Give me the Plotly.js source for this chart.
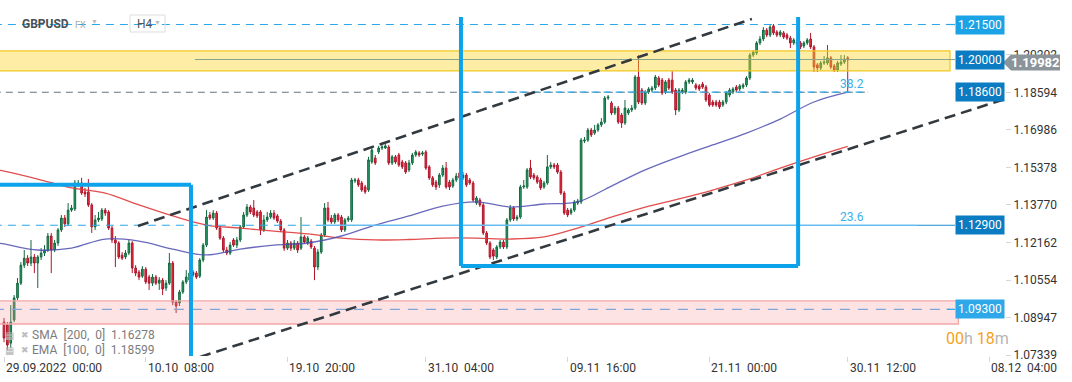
<!DOCTYPE html>
<html>
<head>
<meta charset="utf-8">
<script src="https://cdn.plot.ly/plotly-3.0.1.min.js"></script>
<style>
  html, body { margin: 0; padding: 0; background: #ffffff; }
  #chart { width: 1072px; height: 382px; }
</style>
</head>
<body>
<div id="chart"></div>
<script>
// ---------------- DATA (GBPUSD, H4 bars) ----------------
const symbol = "GBPUSD";
const timeframe = "H4";

const barOpen = [
1.0875,1.0863,1.0785,1.0884,1.0979,1.1042,1.1119,1.1149,1.1128,1.1154,
1.1128,1.1154,1.1171,1.1184,1.1244,1.1184,1.1214,1.1270,1.1321,1.1296,
1.1355,1.1360,1.1463,1.1471,1.1433,1.1433,1.1377,1.1283,1.1313,1.1317,
1.1355,1.1347,1.1278,1.1227,1.1214,1.1162,1.1154,1.1171,1.1214,1.1107,
1.1089,1.1072,1.1102,1.1068,1.1042,1.1068,1.1042,1.1055,1.1021,1.1042,
1.1128,1.0961,1.0957,1.1004,1.1047,1.1055,1.1089,1.1085,1.1072,1.1141,
1.1205,1.1334,1.1321,1.1342,1.1278,1.1235,1.1184,1.1171,1.1227,1.1205,
1.1227,1.1283,1.1334,1.1368,1.1364,1.1347,1.1347,1.1270,1.1313,1.1325,
1.1342,1.1330,1.1308,1.1270,1.1192,1.1214,1.1192,1.1214,1.1192,1.1240,
1.1214,1.1222,1.1192,1.1111,1.1175,1.1248,1.1364,1.1321,1.1304,1.1334,
1.1325,1.1270,1.1313,1.1313,1.1480,1.1484,1.1471,1.1454,1.1441,1.1561,
1.1578,1.1604,1.1621,1.1621,1.1625,1.1557,1.1583,1.1591,1.1561,1.1557,
1.1527,1.1557,1.1591,1.1600,1.1595,1.1604,1.1540,1.1493,1.1475,1.1463,
1.1505,1.1535,1.1475,1.1458,1.1484,1.1514,1.1493,1.1505,1.1484,1.1471,
1.1385,1.1398,1.1377,1.1257,1.1214,1.1184,1.1154,1.1197,1.1218,1.1197,
1.1313,1.1364,1.1317,1.1325,1.1454,1.1454,1.1535,1.1505,1.1497,1.1484,
1.1454,1.1471,1.1540,1.1548,1.1548,1.1518,1.1428,1.1355,1.1342,1.1355,
1.1385,1.1390,1.1651,1.1655,1.1698,1.1685,1.1698,1.1720,1.1732,1.1835,
1.1814,1.1771,1.1792,1.1762,1.1728,1.1771,1.1784,1.1792,1.1925,1.1869,
1.1814,1.1861,1.1869,1.1878,1.1921,1.1912,1.1861,1.1912,1.1912,1.1869,
1.1784,1.1861,1.1861,1.1904,1.1904,1.1891,1.1887,1.1895,1.1882,1.1848,
1.1818,1.1818,1.1818,1.1805,1.1818,1.1848,1.1861,1.1882,1.1874,1.1882,
1.1891,1.1921,1.2019,1.2028,1.2071,1.2088,1.2126,1.2105,1.2144,1.2118,
1.2105,1.2114,1.2105,1.2092,1.2071,1.2075,1.2071,1.2058,1.2071,1.2088,
1.2054,1.1977,1.1964,1.1985,1.1985,1.2007,1.1972,1.1955,1.1981,1.1989,
1.2007];

const barHigh = [
1.0893,1.0875,1.0948,1.0991,1.1064,1.1132,1.1184,1.1162,1.1227,1.1167,
1.1162,1.1192,1.1205,1.1257,1.1257,1.1227,1.1278,1.1334,1.1334,1.1385,
1.1377,1.1484,1.1484,1.1493,1.1450,1.1488,1.1385,1.1334,1.1347,1.1364,
1.1364,1.1355,1.1287,1.1244,1.1222,1.1175,1.1184,1.1227,1.1222,1.1119,
1.1098,1.1115,1.1111,1.1077,1.1081,1.1077,1.1068,1.1064,1.1055,1.1171,
1.1137,1.0970,1.1013,1.1055,1.1098,1.1107,1.1098,1.1094,1.1149,1.1214,
1.1355,1.1347,1.1355,1.1351,1.1287,1.1244,1.1197,1.1218,1.1235,1.1240,
1.1291,1.1347,1.1381,1.1377,1.1398,1.1355,1.1355,1.1334,1.1347,1.1355,
1.1355,1.1338,1.1317,1.1278,1.1227,1.1222,1.1227,1.1222,1.1325,1.1248,
1.1244,1.1231,1.1201,1.1188,1.1257,1.1385,1.1390,1.1334,1.1342,1.1342,
1.1334,1.1321,1.1330,1.1493,1.1493,1.1493,1.1480,1.1463,1.1583,1.1625,
1.1591,1.1630,1.1638,1.1642,1.1634,1.1591,1.1591,1.1600,1.1570,1.1565,
1.1570,1.1600,1.1612,1.1608,1.1608,1.1612,1.1548,1.1501,1.1484,1.1514,
1.1548,1.1561,1.1484,1.1493,1.1514,1.1523,1.1518,1.1514,1.1493,1.1480,
1.1415,1.1407,1.1385,1.1265,1.1222,1.1192,1.1205,1.1227,1.1227,1.1321,
1.1377,1.1372,1.1334,1.1463,1.1484,1.1535,1.1570,1.1514,1.1505,1.1493,
1.1480,1.1591,1.1561,1.1557,1.1557,1.1527,1.1437,1.1364,1.1364,1.1398,
1.1403,1.1664,1.1668,1.1707,1.1707,1.1720,1.1728,1.1749,1.1844,1.1848,
1.1822,1.1801,1.1801,1.1771,1.1827,1.1792,1.1805,1.1934,1.2019,1.1878,
1.1869,1.1882,1.1887,1.1934,1.1929,1.1921,1.1912,1.1921,1.1951,1.1878,
1.1878,1.1878,1.1912,1.1921,1.1921,1.1899,1.1895,1.1904,1.1891,1.1857,
1.1827,1.1827,1.1827,1.1827,1.1865,1.1878,1.1882,1.1891,1.1895,1.1899,
1.1929,1.2028,1.2041,1.2079,1.2101,1.2139,1.2135,1.2152,1.2152,1.2126,
1.2126,1.2122,1.2114,1.2101,1.2092,1.2084,1.2079,1.2079,1.2092,1.2114,
1.2062,1.1985,1.1994,1.2015,1.2062,1.2015,1.1981,1.1994,1.2019,1.2019,
1.2015];

const barLow = [
1.0789,1.0756,1.0764,1.0875,1.0970,1.1034,1.1107,1.1115,1.1115,1.1085,
1.1021,1.1141,1.1158,1.1175,1.1085,1.1175,1.1201,1.1261,1.1283,1.1287,
1.1347,1.1351,1.1454,1.1420,1.1411,1.1368,1.1257,1.1270,1.1304,1.1308,
1.1330,1.1270,1.1214,1.1111,1.1145,1.1141,1.1145,1.1162,1.1085,1.1072,
1.1055,1.1064,1.1038,1.1013,1.1030,1.1034,1.1013,1.0991,1.1009,1.1034,
1.0948,1.0914,1.0944,1.0996,1.1038,1.1047,1.1068,1.1060,1.1064,1.1132,
1.1197,1.1313,1.1313,1.1270,1.1227,1.1175,1.1162,1.1162,1.1197,1.1192,
1.1218,1.1274,1.1325,1.1338,1.1325,1.1321,1.1248,1.1261,1.1304,1.1317,
1.1313,1.1300,1.1261,1.1180,1.1184,1.1180,1.1184,1.1171,1.1184,1.1210,
1.1205,1.1188,1.1055,1.1098,1.1167,1.1240,1.1304,1.1296,1.1296,1.1304,
1.1261,1.1261,1.1304,1.1304,1.1471,1.1454,1.1433,1.1424,1.1433,1.1553,
1.1548,1.1595,1.1612,1.1617,1.1548,1.1548,1.1553,1.1540,1.1531,1.1510,
1.1518,1.1548,1.1583,1.1583,1.1587,1.1527,1.1484,1.1454,1.1441,1.1450,
1.1497,1.1446,1.1441,1.1450,1.1475,1.1484,1.1484,1.1454,1.1463,1.1390,
1.1377,1.1368,1.1248,1.1205,1.1145,1.1141,1.1145,1.1188,1.1188,1.1188,
1.1304,1.1308,1.1308,1.1317,1.1446,1.1446,1.1488,1.1484,1.1467,1.1441,
1.1446,1.1463,1.1531,1.1531,1.1510,1.1420,1.1334,1.1325,1.1334,1.1347,
1.1377,1.1381,1.1642,1.1647,1.1668,1.1677,1.1690,1.1711,1.1724,1.1827,
1.1762,1.1762,1.1724,1.1707,1.1720,1.1762,1.1775,1.1784,1.1809,1.1805,
1.1805,1.1852,1.1861,1.1869,1.1882,1.1848,1.1852,1.1869,1.1852,1.1762,
1.1775,1.1852,1.1852,1.1895,1.1895,1.1869,1.1865,1.1874,1.1818,1.1797,
1.1797,1.1797,1.1788,1.1797,1.1809,1.1839,1.1852,1.1861,1.1865,1.1874,
1.1882,1.1912,1.2011,1.2019,1.2062,1.2079,1.2096,1.2096,1.2105,1.2096,
1.2096,1.2088,1.2084,1.2049,1.2062,1.2058,1.2045,1.2049,1.2062,1.2045,
1.1947,1.1947,1.1955,1.1977,1.1977,1.1959,1.1947,1.1947,1.1972,1.1981,
1.1862];

const barClose = [
1.0807,1.0777,1.0875,1.0979,1.1042,1.1119,1.1149,1.1128,1.1154,1.1128,
1.1154,1.1171,1.1184,1.1244,1.1184,1.1214,1.1270,1.1321,1.1296,1.1355,
1.1364,1.1471,1.1471,1.1428,1.1424,1.1377,1.1283,1.1313,1.1321,1.1355,
1.1342,1.1278,1.1227,1.1214,1.1154,1.1149,1.1171,1.1214,1.1107,1.1085,
1.1068,1.1102,1.1047,1.1042,1.1068,1.1042,1.1055,1.1017,1.1042,1.1128,
1.0961,1.0944,1.1004,1.1047,1.1068,1.1085,1.1077,1.1068,1.1141,1.1205,
1.1325,1.1321,1.1342,1.1278,1.1235,1.1184,1.1171,1.1205,1.1205,1.1227,
1.1283,1.1334,1.1368,1.1347,1.1334,1.1330,1.1270,1.1313,1.1325,1.1342,
1.1321,1.1308,1.1270,1.1192,1.1214,1.1192,1.1214,1.1184,1.1240,1.1218,
1.1235,1.1197,1.1111,1.1175,1.1248,1.1364,1.1313,1.1304,1.1334,1.1313,
1.1270,1.1313,1.1321,1.1484,1.1484,1.1463,1.1441,1.1433,1.1570,1.1612,
1.1557,1.1621,1.1625,1.1630,1.1557,1.1583,1.1561,1.1548,1.1540,1.1518,
1.1557,1.1591,1.1604,1.1591,1.1600,1.1535,1.1493,1.1463,1.1454,1.1505,
1.1535,1.1454,1.1454,1.1484,1.1501,1.1493,1.1505,1.1463,1.1471,1.1398,
1.1407,1.1377,1.1257,1.1214,1.1154,1.1158,1.1197,1.1218,1.1197,1.1313,
1.1364,1.1317,1.1325,1.1454,1.1458,1.1527,1.1497,1.1493,1.1475,1.1450,
1.1471,1.1540,1.1548,1.1540,1.1518,1.1428,1.1342,1.1334,1.1355,1.1390,
1.1394,1.1655,1.1655,1.1698,1.1677,1.1698,1.1720,1.1732,1.1835,1.1839,
1.1771,1.1792,1.1732,1.1728,1.1792,1.1784,1.1792,1.1925,1.1818,1.1814,
1.1861,1.1874,1.1878,1.1925,1.1891,1.1857,1.1904,1.1878,1.1861,1.1784,
1.1869,1.1869,1.1904,1.1912,1.1912,1.1878,1.1874,1.1882,1.1827,1.1805,
1.1805,1.1805,1.1797,1.1818,1.1857,1.1869,1.1874,1.1869,1.1887,1.1891,
1.1921,1.2019,1.2032,1.2071,1.2088,1.2126,1.2105,1.2139,1.2114,1.2105,
1.2118,1.2096,1.2092,1.2071,1.2084,1.2066,1.2054,1.2071,1.2084,1.2054,
1.1968,1.1964,1.1985,1.1989,1.2007,1.1968,1.1955,1.1985,1.1989,1.2002,
1.1998];

// moving averages (bar index -> value)
const maIdx  = [-2, 0, 10, 20, 30, 40, 50, 60, 70, 80, 90, 100, 110, 120, 130, 140, 150, 160, 170, 180, 190, 200, 210, 220, 230, 240, 250];
const sma200 = [1.1527,1.1522,1.1488,1.1450,1.1428,1.1377,1.1330,1.1291,1.1278,1.1265,1.1253,1.1235,1.1227,1.1229,1.1235,1.1235,1.1231,1.1240,1.1278,1.1325,1.1368,1.1403,1.1441,1.1484,1.1535,1.1583,1.1628];
const ema100 = [1.1214,1.1210,1.1184,1.1192,1.1231,1.1222,1.1188,1.1163,1.1188,1.1205,1.1214,1.1244,1.1291,1.1330,1.1372,1.1390,1.1368,1.1381,1.1390,1.1458,1.1527,1.1583,1.1634,1.1685,1.1745,1.1818,1.18599];

// x tick labels
const xTickIdx  = [0, 42, 84, 125, 167, 209, 250, 292];
const xTickText = ["29.09.2022\u00a0\u00a000:00", "10.10\u00a0\u00a008:00", "19.10\u00a0\u00a020:00", "31.10\u00a0\u00a004:00",
                   "09.11\u00a0\u00a016:00", "21.11\u00a0\u00a000:00", "30.11\u00a0\u00a012:00", "08.12\u00a0\u00a004:00"];
// y tick labels
const yTickVals = [1.07339, 1.08947, 1.10554, 1.12162, 1.13770, 1.15378, 1.16986, 1.18594, 1.20202];

// horizontal price levels
const levelVals  = [1.21500, 1.20000, 1.18600, 1.12900, 1.09300];
const levelText  = ["1.21500", "1.20000", "1.18600", "1.12900", "1.09300"];
const levelColor = ["#1ba3e6", "#0b7cc1", "#0b7cc1", "#0b7cc1", "#2ea8e8"];
// zones
const resistZone = [1.1951, 1.2037];
const supportZone = [1.0867, 1.0966];
// fibonacci labels
const fibLabels = ["38.2", "23.6"];
const fibVals = [1.18600, 1.12900];
const lastPrice = 1.19982;
const smaLast = "1.16278", emaLast = "1.18599";

// ---------------- CHART ----------------
const idx = barClose.map((_, k) => k);
const FONT = "Roboto, 'Open Sans', sans-serif";
const PW = 1005, PH = 356;           // plot area size in px
const px = v => v / PW;              // helper for paper coords
const py = v => (PH - v) / PH;

const traces = [
  {
    type: "candlestick", x: idx, open: barOpen, high: barHigh, low: barLow, close: barClose,
    increasing: { line: { color: "#14693f", width: 1 }, fillcolor: "#25a068" },
    decreasing: { line: { color: "#b0142a", width: 1 }, fillcolor: "#e6333f" },
    whiskerwidth: 0, hoverinfo: "skip", showlegend: false
  },
  { type: "scatter", mode: "lines", x: maIdx, y: sma200, line: { color: "#de3b3b", width: 1.3, shape: "spline" }, opacity: 0.9, hoverinfo: "skip", showlegend: false },
  { type: "scatter", mode: "lines", x: maIdx, y: ema100, line: { color: "#4d4db0", width: 1.3, shape: "spline" }, opacity: 0.85, hoverinfo: "skip", showlegend: false }
];

const XR = 280.3, XL = 281.8;   // right end of level lines / label start (bar index units)
const shapes = [
  // resistance zone
  { type: "rect", xref: "x", yref: "y", x0: -3, x1: XR, y0: resistZone[0], y1: resistZone[1],
    fillcolor: "rgba(252,212,40,0.42)", line: { color: "#f2c820", width: 1.3 }, layer: "above" },
  // support zone
  { type: "rect", xref: "x", yref: "y", x0: -3, x1: XL + 1, y0: supportZone[0], y1: supportZone[1],
    fillcolor: "rgba(246,150,150,0.27)", line: { color: "#f2a7a7", width: 1.3 }, layer: "above" },
  // 1.215 dashed
  { type: "line", xref: "x", yref: "y", x0: -3, x1: XR, y0: levelVals[0], y1: levelVals[0], line: { color: "#2aa8e8", width: 1.2, dash: "8px,6px" }, layer: "above" },
  { type: "line", xref: "x", yref: "y", x0: XR - 1, x1: XL, y0: levelVals[0], y1: levelVals[0], line: { color: "#2aa8e8", width: 1.2 }, layer: "above" },
  // 1.20 line in zone
  { type: "line", xref: "x", yref: "y", x0: 56.6, x1: XL, y0: levelVals[1], y1: levelVals[1], line: { color: "#8aa38c", width: 1.2 }, layer: "above" },
  // 1.186
  { type: "line", xref: "x", yref: "y", x0: -3, x1: 256, y0: levelVals[2], y1: levelVals[2], line: { color: "#6a7680", width: 1.1, dash: "7px,5px" }, layer: "above" },
  { type: "line", xref: "x", yref: "y", x0: 135, x1: 256, y0: levelVals[2], y1: levelVals[2], line: { color: "#2aa8e8", width: 1.2, dash: "7px,5px" }, layer: "above" },
  // 1.129
  { type: "line", xref: "x", yref: "y", x0: -3, x1: 94.2, y0: levelVals[3], y1: levelVals[3], line: { color: "#2aa8e8", width: 1.2, dash: "8px,6px" }, layer: "above" },
  { type: "line", xref: "x", yref: "y", x0: 94.2, x1: 270.5, y0: levelVals[3], y1: levelVals[3], line: { color: "#66bdf0", width: 1.6 }, layer: "above" },
  { type: "line", xref: "x", yref: "y", x0: 270.5, x1: XL, y0: levelVals[3], y1: levelVals[3], line: { color: "#1a8fd0", width: 1.2 }, layer: "above" },
  // 1.093
  { type: "line", xref: "x", yref: "y", x0: -3, x1: XR, y0: levelVals[4], y1: levelVals[4], line: { color: "#7fa6d6", width: 1.2, dash: "10px,8px" }, layer: "above" },
  { type: "line", xref: "x", yref: "y", x0: XR - 1, x1: XL, y0: levelVals[4], y1: levelVals[4], line: { color: "#2aa8e8", width: 1.2 }, layer: "above" },
  // trend channel
  { type: "line", xref: "x", yref: "y", x0: 39.7, y0: 1.1287, x1: 221.6, y1: 1.2174, line: { color: "#333a3f", width: 2.6, dash: "11px,6px" }, layer: "above" },
  { type: "line", xref: "x", yref: "y", x0: 58.1, y0: 1.0726, x1: 297.5, y1: 1.1835, line: { color: "#333a3f", width: 2.6, dash: "11px,6px" }, layer: "above" },
  // blue box 1
  { type: "line", xref: "x", yref: "y", x0: -3, x1: 55.4, y0: 1.1463, y1: 1.1463, line: { color: "#0ca3ea", width: 4 }, layer: "above" },
  { type: "line", xref: "x", yref: "y", x0: 55.4, x1: 55.4, y0: 1.1463, y1: 1.06, line: { color: "#0ca3ea", width: 4 }, layer: "above" },
  // blue box 2
  { type: "line", xref: "x", yref: "y", x0: 135.4, x1: 135.4, y0: 1.2182, y1: 1.1115, line: { color: "#0ca3ea", width: 4 }, layer: "above" },
  { type: "line", xref: "x", yref: "y", x0: 135.4, x1: 235.3, y0: 1.1115, y1: 1.1115, line: { color: "#0ca3ea", width: 4 }, layer: "above" },
  { type: "line", xref: "x", yref: "y", x0: 235.3, x1: 235.3, y0: 1.2182, y1: 1.1115, line: { color: "#0ca3ea", width: 4 }, layer: "above" },
  // H4 selector box
  { type: "rect", xref: "paper", yref: "paper", x0: px(130), x1: px(165), y0: py(32), y1: py(15), line: { color: "#dddddd", width: 1 }, fillcolor: "rgba(0,0,0,0)", layer: "above" },
  // current price tag
  { type: "path", xref: "paper", yref: "paper",
    path: `M ${px(1003)},${py(62.5)} L ${px(1011)},${py(54.5)} L ${px(1060)},${py(54.5)} L ${px(1060)},${py(70.5)} L ${px(1011)},${py(70.5)} Z`,
    fillcolor: "#8b949a", line: { width: 0 }, layer: "above" }
];

const annotations = [];
// level labels
levelVals.forEach((v, k) => {
  annotations.push({ xref: "paper", yref: "y", x: px(979.5), y: v, text: levelText[k], showarrow: false,
    xanchor: "center", yanchor: "middle", bgcolor: levelColor[k], borderpad: 2,
    font: { family: FONT, size: 12, color: "#ffffff" } });
});
// current price
annotations.push({ xref: "paper", yref: "paper", x: px(1035), y: py(62.5), text: "<b>" + lastPrice.toFixed(5) + "</b>", showarrow: false,
  xanchor: "center", yanchor: "middle", font: { family: FONT, size: 13, color: "#ffffff" } });
// fib labels
fibLabels.forEach((t, k) => {
  annotations.push({ xref: "x", yref: "y", x: 251.3, y: fibVals[k], yshift: 8, text: t, showarrow: false,
    xanchor: "center", yanchor: "middle", font: { family: FONT, size: 12, color: "#3aaeea" } });
});
// x tick labels
xTickIdx.forEach((v, k) => {
  annotations.push({ xref: "x", yref: "paper", x: v, y: py(368), text: xTickText[k], showarrow: false,
    xanchor: "left", yanchor: "middle", xshift: 0, font: { family: FONT, size: 12, color: "#333333" } });
});
// header
annotations.push({ xref: "paper", yref: "paper", x: px(20), y: py(24), text: "<b>" + symbol + "</b>", showarrow: false,
  xanchor: "left", yanchor: "middle", font: { family: FONT, size: 12, color: "#4a4f54" } });
annotations.push({ xref: "paper", yref: "paper", x: px(73), y: py(25), text: "FX", showarrow: false,
  xanchor: "left", yanchor: "middle", font: { family: FONT, size: 9, color: "#a9a9a9" } });
annotations.push({ xref: "paper", yref: "paper", x: px(89), y: py(22), text: "▼", showarrow: false,
  xanchor: "left", yanchor: "middle", font: { family: FONT, size: 7, color: "#bbbbbb" } });
annotations.push({ xref: "paper", yref: "paper", x: px(135), y: py(24), text: timeframe, showarrow: false,
  xanchor: "left", yanchor: "middle", font: { family: FONT, size: 12, color: "#555555" } });
annotations.push({ xref: "paper", yref: "paper", x: px(152), y: py(23), text: "▼", showarrow: false,
  xanchor: "left", yanchor: "middle", font: { family: FONT, size: 7, color: "#bbbbbb" } });
// indicator legend
[["SMA\u00a0\u00a0[200,\u00a0\u00a00]\u00a0\u00a0" + smaLast, 335], ["EMA\u00a0\u00a0[100,\u00a0\u00a00]\u00a0\u00a0" + emaLast, 350]].forEach(([t, yy]) => {
  annotations.push({ xref: "paper", yref: "paper", x: px(3), y: py(yy), text: "▦", showarrow: false,
    xanchor: "left", yanchor: "middle", font: { family: "DejaVu Sans", size: 10, color: "#b5b5b5" } });
  annotations.push({ xref: "paper", yref: "paper", x: px(19), y: py(yy), text: "✖", showarrow: false,
    xanchor: "left", yanchor: "middle", font: { family: "DejaVu Sans", size: 9, color: "#bdbdbd" } });
  annotations.push({ xref: "paper", yref: "paper", x: px(30), y: py(yy), text: t, showarrow: false,
    xanchor: "left", yanchor: "middle", font: { family: FONT, size: 12, color: "#7c7c7c" } });
});
// countdown
annotations.push({ xref: "paper", yref: "paper", x: px(944), y: py(338),
  text: '<span style="color:#f5a21b">00</span><span style="color:#b5b5b5">h </span><span style="color:#f5a21b">18</span><span style="color:#b5b5b5">m</span>',
  showarrow: false, xanchor: "left", yanchor: "middle", font: { family: FONT, size: 16, color: "#f5a21b" } });

const layout = {
  width: 1072, height: 382,
  margin: { l: 0, r: 67, t: 0, b: 26, pad: 0 },
  paper_bgcolor: "#ffffff", plot_bgcolor: "#ffffff",
  showlegend: false, hovermode: false, dragmode: false,
  font: { family: FONT, size: 12, color: "#333" },
  xaxis: {
    range: [-1.185, 296.6], showgrid: false, zeroline: false, showline: false,
    tickvals: xTickIdx, ticktext: xTickText, showticklabels: false,
    ticks: "outside", ticklen: 5, tickcolor: "#d6d6d6", tickwidth: 1,
    rangeslider: { visible: false }, fixedrange: true
  },
  yaxis: {
    side: "right", range: [1.07299, 1.2255], showgrid: false, zeroline: false, showline: false,
    tickvals: yTickVals, tickformat: ".5f", ticks: "outside", ticklen: 5, tickcolor: "#d6d6d6",
    tickfont: { family: FONT, size: 12, color: "#333333" }, fixedrange: true
  },
  shapes: shapes,
  annotations: annotations
};

Plotly.newPlot("chart", traces, layout, { displayModeBar: false, staticPlot: true });
</script>
</body>
</html>
